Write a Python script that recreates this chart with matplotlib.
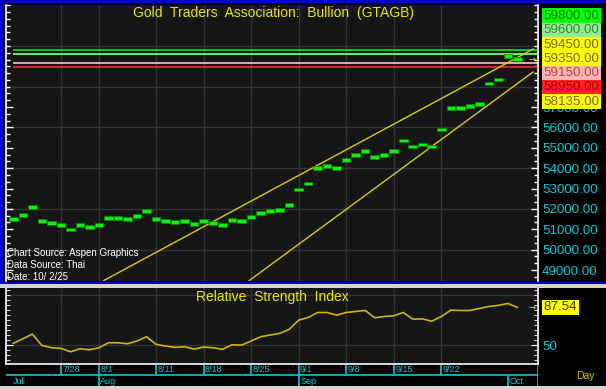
import matplotlib.pyplot as plt
from matplotlib.ticker import MultipleLocator, FixedLocator
from matplotlib.patches import Rectangle

plt.rcParams['font.family'] = ['Liberation Sans', 'DejaVu Sans']

# ---------------------------------------------------------------
# data
# ---------------------------------------------------------------
dates = ['7/21', '7/22', '7/23', '7/24', '7/25', '7/28', '7/29', '7/30', '7/31',
         '8/1', '8/4', '8/5', '8/6', '8/7', '8/8', '8/11', '8/12', '8/13', '8/14',
         '8/15', '8/18', '8/19', '8/20', '8/21', '8/22', '8/25', '8/26', '8/27',
         '8/28', '8/29', '9/1', '9/2', '9/3', '9/4', '9/5', '9/8', '9/9', '9/10',
         '9/11', '9/12', '9/15', '9/16', '9/17', '9/18', '9/19', '9/22', '9/23',
         '9/24', '9/25', '9/26', '9/29', '9/30', '10/1', '10/2']

closes = [51500, 51700, 52100, 51400, 51300, 51200, 51000, 51200, 51100, 51200,
          51550, 51550, 51500, 51650, 51900, 51500, 51400, 51350, 51400, 51250,
          51400, 51300, 51200, 51450, 51400, 51600, 51800, 51900, 51950, 52200,
          52950, 53250, 54000, 54100, 54000, 54400, 54650, 54850, 54550, 54650,
          54850, 55350, 55050, 55150, 55050, 55900, 56950, 56950, 57050, 57150,
          58150, 58350, 59500, 59350]

rsi = [51.7, 56.3, 60.9, 49.7, 47.3, 46.7, 43.3, 46.3, 45.3, 47.3,
       52.3, 52.3, 51.3, 54.0, 58.3, 50.7, 49.0, 47.7, 48.3, 46.0,
       48.0, 47.3, 45.7, 50.3, 50.0, 54.0, 58.3, 60.0, 61.6, 65.6,
       74.8, 77.5, 82.5, 82.5, 79.8, 82.5, 83.5, 84.5, 77.2, 78.5,
       79.2, 82.5, 75.8, 76.1, 73.8, 78.5, 84.8, 84.5, 84.5, 86.5,
       88.5, 89.5, 91.5, 87.54]

week_labels = ['7/28', '8/1', '8/11', '8/18', '8/25', '9/1', '9/8', '9/15', '9/22']
month_labels = [('Jul', '7/21'), ('Aug', '8/1'), ('Sep', '9/1'), ('Oct', '10/1')]

# trend channel: (index, price) end points
upper_trend_x = [9.5, 54.65]
upper_trend_y = [48480, 59850]
lower_trend_x = [24.8, 54.65]
lower_trend_y = [48480, 58720]

# horizontal levels
levels = [59800, 59600, 59150, 58950]
level_colors = ['#00e000', '#70ff70', '#f0b8b0', '#e02828']

# right side value boxes
box_values = [59800, 59600, 59450, 59350, 59150, 58950, 58135]
box_bg = ['#00ff00', '#90ee90', '#ffff00', '#ffff00', '#ffb4b4', '#ff2020', '#ffff00']
box_fg = ['#007a00', '#3a8a3a', '#7a6400', '#7a6400', '#b04848', '#a00000', '#7a6400']
last_close = 59350
last_rsi = 87.54

price_labels = [49000, 50000, 51000, 52000, 53000, 54000, 55000, 56000, 57000]
price_grid = [50000, 52000, 54000, 56000, 58000, 60000]

x = list(range(len(dates)))
week_idx = [dates.index(d) for d in week_labels]

BG = '#161616'
GRID = '#343434'
CYAN = '#00c8d4'
YEL = '#e6e600'

fig = plt.figure(figsize=(6.06, 3.89), dpi=100, facecolor='black')
W, H = 606.0, 389.0

def fbox(l, t, r, b):
    return [l / W, 1 - b / H, (r - l) / W, (b - t) / H]

ax = fig.add_axes(fbox(6, 5, 538, 281))
ax2 = fig.add_axes(fbox(6, 287.5, 538, 364))
axd = fig.add_axes(fbox(6, 365, 538, 389))

xlim = (-0.77, 55.17)

# ---------------------------------------------------------------
# main price panel
# ---------------------------------------------------------------
ax.set_facecolor(BG)
ax.set_xlim(*xlim)
ax.set_ylim(48460, 62010)
for g in price_grid:
    ax.axhline(g, color=GRID, lw=1, zorder=0)
for i in week_idx:
    ax.axvline(i, color=GRID, lw=1, zorder=0)

for lv, c in zip(levels, level_colors):
    ax.hlines(lv, 0, xlim[1], color=c, lw=1.3, zorder=2)

ax.plot(upper_trend_x, upper_trend_y, color='#d8cc00', lw=1.0, zorder=3)
ax.plot(lower_trend_x, lower_trend_y, color='#d8cc00', lw=1.0, zorder=3)

ax.bar(x, [170] * len(x), bottom=[c - 85 for c in closes], width=0.9,
       color='#10f010', edgecolor='#008800', lw=0.5, zorder=4)

ax.text(xlim[1] - 0.6, last_close, '→', color=YEL, fontsize=6,
        ha='center', va='center', family='DejaVu Sans', zorder=5)

ax.text(0.502, 0.972, 'Gold  Traders  Association:  Bullion  (GTAGB)',
        transform=ax.transAxes, ha='center', va='center', color=YEL, fontsize=10)
ax.text(0.002, 0.101, 'Chart Source: Aspen Graphics', transform=ax.transAxes,
        color='white', fontsize=7, va='center')
ax.text(0.002, 0.058, 'Data Source: Thai', transform=ax.transAxes,
        color='white', fontsize=7, va='center')
ax.text(0.002, 0.015, 'Date: 10/ 2/25', transform=ax.transAxes,
        color='white', fontsize=7, va='center')

ax.yaxis.set_major_locator(FixedLocator(price_labels))
ax.yaxis.set_minor_locator(MultipleLocator(1000 / 3))
ax.set_yticklabels([f'{v:.2f}' for v in price_labels])
ax.tick_params(axis='y', which='both', left=True, right=True, labelleft=False,
               labelright=True, direction='in', color='white', labelcolor=CYAN,
               labelsize=9.6, pad=3)
ax.tick_params(axis='y', which='major', length=5, width=1)
ax.tick_params(axis='y', which='minor', length=3, width=1)
ax.tick_params(axis='x', bottom=False, labelbottom=False)
for s in ['left', 'right']:
    ax.spines[s].set_color('white')
    ax.spines[s].set_linewidth(1.2)
for s in ['top', 'bottom']:
    ax.spines[s].set_visible(False)

# stacked value boxes on the right
for k, (v, bg, fg) in enumerate(zip(box_values, box_bg, box_fg)):
    yy = 1 - (16.0 + 14.3 * k - 5) / 276.0
    ax.text(1.0105, yy, f'{v:.2f}', transform=ax.transAxes, ha='left', va='center',
            color=fg, fontsize=9.6, zorder=10, clip_on=False,
            bbox=dict(boxstyle='square,pad=0.12', facecolor=bg, edgecolor='none'))

# ---------------------------------------------------------------
# RSI panel
# ---------------------------------------------------------------
ax2.set_facecolor(BG)
ax2.set_xlim(*xlim)
ax2.set_ylim(31.1, 107.4)
for g in [50, 100]:
    ax2.axhline(g, color=GRID, lw=1, zorder=0)
for i in week_idx:
    ax2.axvline(i, color=GRID, lw=1, zorder=0)
ax2.plot(x, rsi, color='#c8b800', lw=1.2, zorder=3)
ax2.text(0.5, 0.875, 'Relative  Strength  Index', transform=ax2.transAxes,
         ha='center', va='center', color=YEL, fontsize=10)
ax2.text(xlim[1] - 0.6, last_rsi, '→', color=YEL, fontsize=6,
         ha='center', va='center', family='DejaVu Sans')
ax2.text(1.0105, last_rsi, f'{last_rsi:.2f}', transform=ax2.get_yaxis_transform(),
         ha='left', va='center', color='#3a3000', fontsize=9.6, clip_on=False,
         bbox=dict(boxstyle='square,pad=0.12', facecolor='#ffff00', edgecolor='none'))
ax2.yaxis.set_major_locator(FixedLocator([50]))
ax2.yaxis.set_minor_locator(MultipleLocator(5))
ax2.tick_params(axis='y', which='both', left=True, right=True, labelleft=False,
                labelright=True, direction='in', color='white', labelcolor=CYAN,
                labelsize=9.6, pad=3)
ax2.tick_params(axis='y', which='major', length=5)
ax2.tick_params(axis='y', which='minor', length=3)
ax2.tick_params(axis='x', bottom=False, labelbottom=False)
for s in ['left', 'right', 'bottom']:
    ax2.spines[s].set_color('white')
    ax2.spines[s].set_linewidth(1.2)
ax2.spines['top'].set_visible(False)

# ---------------------------------------------------------------
# date strip
# ---------------------------------------------------------------
axd.set_facecolor('black')
axd.set_xlim(*xlim)
axd.set_ylim(0, 1)
axd.axis('off')
mid = 14 / 24.0
axd.axhline(mid, color=CYAN, lw=1.2)
axd.axvline(xlim[1] - 0.05, color=CYAN, lw=1.2)
for d, i in zip(week_labels, week_idx):
    axd.vlines(i, mid, 1, color=CYAN, lw=1.2)
    axd.text(i + 0.15, 0.8, d, color=CYAN, fontsize=6.5, ha='left', va='center')
for k, (m, d) in enumerate(month_labels):
    i = dates.index(d)
    if k > 0:
        axd.vlines(i, 0, mid, color=CYAN, lw=1.2)
        axd.text(i + 0.15, 0.3, m, color=CYAN, fontsize=6.5, ha='left', va='center')
    else:
        axd.text(i, 0.3, m, color=CYAN, fontsize=6.5, ha='left', va='center')

fig.text(585 / W, 1 - 376 / H, 'Day', color='#c8c800', fontsize=7.5,
         ha='center', va='center')

# frame pieces
fig.patches.append(Rectangle((0, 1 - 282 / H), 4 / W, 282 / H, transform=fig.transFigure,
                             facecolor='#0000c8', edgecolor='none', zorder=0))
fig.patches.append(Rectangle((0, 1 - 3 / H), 1, 3 / H, transform=fig.transFigure,
                             facecolor='#0000c8', edgecolor='none', zorder=0))
fig.patches.append(Rectangle((0, 1 - 283.5 / H), 1, 2 / H, transform=fig.transFigure,
                             facecolor='#0000c8', edgecolor='none', zorder=0))
fig.patches.append(Rectangle((0, 1 - 287.5 / H), 1, 4 / H, transform=fig.transFigure,
                             facecolor='#d4d4d4', edgecolor='none', zorder=0))
fig.patches.append(Rectangle((0, 0), 1, 3 / H, transform=fig.transFigure,
                             facecolor='#d4d4d4', edgecolor='none', zorder=0))

fig.savefig('out.png', dpi=100, facecolor='black')
